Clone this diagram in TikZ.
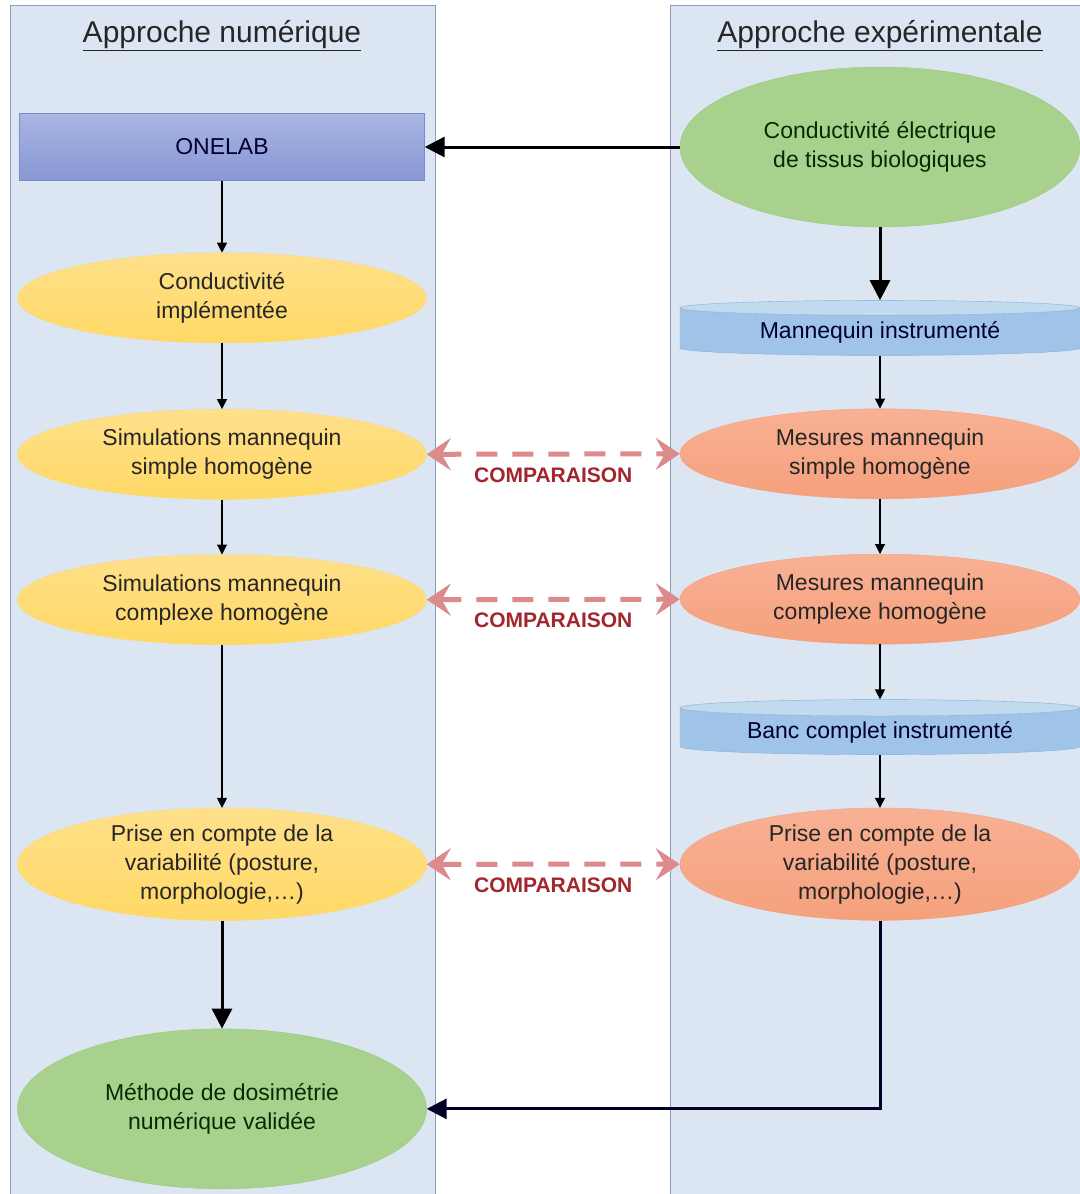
\documentclass[tikz,border=0pt]{standalone}
\usepackage{fontspec}
\setmainfont{Liberation Sans}
\usepackage{xcolor}
\definecolor{panel}{HTML}{DCE6F3}
\definecolor{panelline}{HTML}{8C9DB5}
\definecolor{onetop}{HTML}{A9B5E2}
\definecolor{onebot}{HTML}{8797D5}
\definecolor{oneline}{HTML}{7A8BC8}
\definecolor{vertfill}{HTML}{A9D18E}
\definecolor{vertline}{HTML}{9CC87E}
\definecolor{jaunefill}{HTML}{FFD966}
\definecolor{jaunetop}{HTML}{FFE08A}
\definecolor{orangefill}{HTML}{F5A07C}
\definecolor{orangetop}{HTML}{F8B194}
\definecolor{disqbody}{HTML}{9FC4E7}
\definecolor{disqend}{HTML}{C2DAF0}
\definecolor{disqline}{HTML}{86AED8}
\definecolor{comp}{HTML}{DC8A8C}
\definecolor{compred}{HTML}{A3262E}
\usetikzlibrary{arrows.meta,positioning,shapes.geometric,calc}
\tikzset{
  lane/.style={fill=panel,draw=panelline,line width=0.8pt},
  lanetitle/.style={font=\fontsize{30}{36}\selectfont,text=black!85},
  bloc/.style={draw=oneline,top color=onetop,bottom color=onebot,%
    minimum width=405pt,minimum height=67pt,font=\fontsize{23}{29}\selectfont,text=black!80!blue},
  soft/.style={ellipse,align=center,inner sep=0pt,minimum width=409pt,minimum height=90pt,%
    font=\fontsize{23}{29}\selectfont,text=black!85},
  vert/.style={soft,draw=vertline,fill=vertfill,text=black!70!green!60!black},
  jaune/.style={soft,draw=jaunefill,top color=jaunetop,bottom color=jaunefill},
  orange/.style={soft,minimum width=400pt,draw=orangefill,top color=orangetop,bottom color=orangefill},
  disque/.style={cylinder,shape border rotate=90,aspect=0.06,cylinder uses custom fill,%
    cylinder body fill=disqbody,cylinder end fill=disqend,draw=disqline,%
    minimum width=400pt,minimum height=55pt,font=\fontsize{23}{29}\selectfont,text=black!80!blue},
  flow/.style={-{Triangle[length=10pt,width=10pt]},line width=1.1pt},
  bigflow/.style={-{Triangle[length=20pt,width=20pt]},line width=3pt},
  compare/.style={{Stealth[length=24pt,width=32pt,inset=9pt]}-{Stealth[length=24pt,width=32pt,inset=9pt]},%
    line width=5pt,draw=comp,dash pattern=on 21pt off 15pt},
  complabel/.style={font=\bfseries\fontsize{21}{25}\selectfont,text=compred},
}

\begin{document}
\begin{tikzpicture}[x=1pt,y=-1pt]
\useasboundingbox (0,0) rectangle (1079,1194);
\fill[white] (0,0) rectangle (1079,1194);
% the two lanes
\draw[lane] (10,5) rectangle (435,1210);
\draw[lane] (670,5) rectangle (1095,1210);
\node[lanetitle] (tnum) at (222,36) {\underline{Approche numérique}};
\node[lanetitle] (texp) at (880,36) {\underline{Approche expérimentale}};
% numerical side
\node[bloc] (onelab) at (222,147) {ONELAB};
\node[jaune,below=72pt of onelab] (impl) {Conductivité\\implémentée};
\node[jaune,below=66pt of impl] (simsimple) {Simulations mannequin\\simple homogène};
\node[jaune,below=55pt of simsimple] (simcomplexe) {Simulations mannequin\\complexe homogène};
\node[jaune,minimum height=112pt,below=163pt of simcomplexe] (simvar) {Prise en compte de la\\variabilité (posture,\\morphologie,\ldots)};
\node[vert,minimum height=160pt,below=108pt of simvar] (methode) {Méthode de dosimétrie\\numérique validée};
% experimental side
\node[vert,minimum width=400pt,minimum height=160pt] (cond) at (880,147) {Conductivité électrique\\de tissus biologiques};
\node[disque,below=73pt of cond] (mannequin) {Mannequin instrumenté};
\node[orange,below=53pt of mannequin] (messimple) {Mesures mannequin\\simple homogène};
\node[orange,below=55pt of messimple] (mescomplexe) {Mesures mannequin\\complexe homogène};
\node[disque,below=55pt of mescomplexe] (banc) {Banc complet instrumenté};
\node[orange,minimum height=112pt,below=53pt of banc] (mesvar) {Prise en compte de la\\variabilité (posture,\\morphologie,\ldots)};
% links
\draw[bigflow] (cond.west) -- (onelab.east);
\draw[flow] (onelab) -- (impl);
\draw[flow] (impl) -- (simsimple);
\draw[flow] (simsimple) -- (simcomplexe);
\draw[flow] (simcomplexe) -- (simvar);
\draw[bigflow] (simvar) -- (methode);
\draw[bigflow] (cond) -- (mannequin);
\draw[flow] (mannequin) -- (messimple);
\draw[flow] (messimple) -- (mescomplexe);
\draw[flow] (mescomplexe) -- (banc);
\draw[flow] (banc) -- (mesvar);
\draw[bigflow,draw=black!85!blue] (mesvar.south) |- (methode.east);
\draw[compare] (simsimple.east) -- node[complabel,yshift=-21pt]{COMPARAISON} (messimple.west);
\draw[compare] (simcomplexe.east) -- node[complabel,yshift=-21pt]{COMPARAISON} (mescomplexe.west);
\draw[compare] (simvar.east) -- node[complabel,yshift=-21pt]{COMPARAISON} (mesvar.west);
\end{tikzpicture}
\end{document}
